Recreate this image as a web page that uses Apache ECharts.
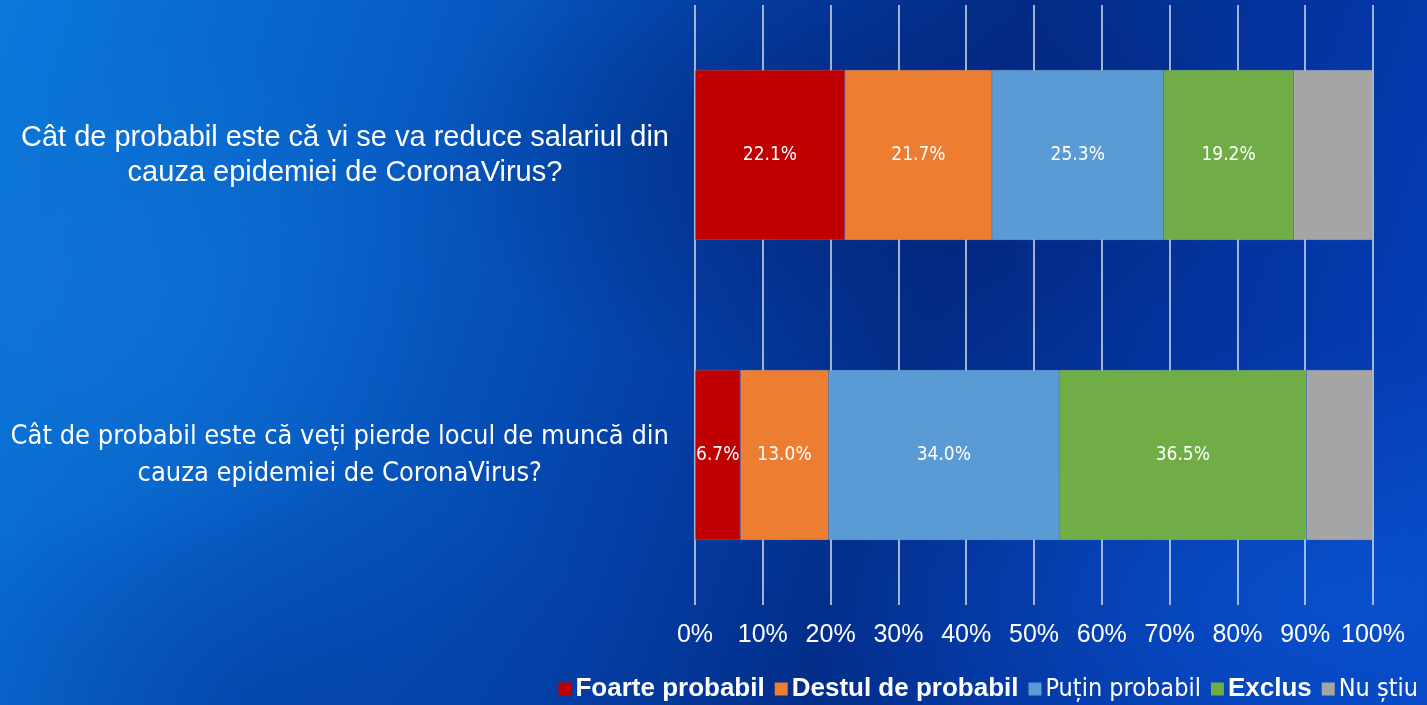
<!DOCTYPE html>
<html>
<head>
<meta charset="utf-8">
<script src="https://cdn.jsdelivr.net/npm/echarts@6/dist/echarts.min.js"></script>
<style>
html, body { margin: 0; padding: 0; }
body {
	width: 1427px; height: 705px; overflow: hidden;
	background:
		radial-gradient(ellipse 330px 260px at 120px 300px, rgba(20,120,215,0.5), rgba(20,120,215,0) 100%),
		radial-gradient(ellipse 520px 260px at 1330px 600px, rgba(10,85,210,0.75), rgba(10,85,210,0) 100%),
		radial-gradient(ellipse 420px 240px at 850px 150px, rgba(2,30,110,0.6), rgba(2,30,110,0) 100%),
		radial-gradient(ellipse 380px 220px at 260px 700px, rgba(3,50,150,0.45), rgba(3,50,150,0) 100%),
		linear-gradient(108deg, #0a78da 0%, #0866cc 18%, #0550b8 36%, #043ca2 50%, #022e8a 62%, #0334a0 80%, #0642c0 100%);
}
#chart { width: 1427px; height: 705px; }
</style>
</head>
<body>
<div id="chart"></div>
<script>
// 数据
var questions = [
	'Cât de probabil este că vi se va reduce salariul din\ncauza epidemiei de CoronaVirus?',
	'Cât de probabil este că veți pierde locul de muncă din\ncauza epidemiei de CoronaVirus?'
];
var seriesNames = ['Foarte probabil', 'Destul de probabil', 'Puțin probabil', 'Exclus', 'Nu știu'];
var foarte = [22.1, 6.7];
var destul = [21.7, 13.0];
var putin = [25.3, 34.0];
var exclus = [19.2, 36.5];
var nuStiu = [11.7, 9.8];
var colors = ['#c00000', '#ed7d31', '#5b9bd5', '#70ad47', '#a5a5a5'];

var condensed = '"DejaVu Sans Condensed", "DejaVu Sans", sans-serif';
var arial = '"Liberation Sans", Arial, sans-serif';

var myChart = echarts.init(document.getElementById('chart'));

function makeSeries(name, data, idx) {
	return {
		name : name,
		type : 'bar',
		stack : 'total',
		barWidth : 170,
		data : data,
		itemStyle : { color : colors[idx], borderColor : 'rgba(255,255,255,0.25)', borderWidth : 0.6 },
		label : {
			show : idx < 4,
			position : 'inside',
			color : '#ffffff',
			fontFamily : condensed,
			fontSize : 19,
			formatter : function(p) { return p.value.toFixed(1) + '%'; }
		}
	};
}

var allData = [foarte, destul, putin, exclus, nuStiu];
var series = [];
for (var i = 0; i < seriesNames.length; i++) {
	series.push(makeSeries(seriesNames[i], allData[i], i));
}

var option = {
	animation : false,
	grid : {
		left : 695,
		right : 54,
		top : 5,
		bottom : 100
	},
	xAxis : {
		type : 'value',
		min : 0,
		max : 100,
		interval : 10,
		axisLine : { show : false },
		axisTick : { show : false },
		splitLine : { lineStyle : { color : '#d8dce8', width : 1.5 } },
		axisLabel : {
			color : '#ffffff',
			fontFamily : arial,
			fontSize : 25,
			margin : 18,
			formatter : '{value}%'
		}
	},
	yAxis : {
		type : 'category',
		inverse : true,
		data : questions,
		axisLine : { show : false },
		axisTick : { show : false },
		axisLabel : {
			margin : 26,
			align : 'right',
			formatter : function(v, i) {
				var lines = v.split('\n');
				var st = i === 0 ? 'a' : 'b';
				return '{' + st + '|' + lines[0] + '}\n{' + st + '|' + lines[1] + '}';
			},
			rich : {
				a : { color : '#ffffff', fontFamily : arial, fontSize : 29, lineHeight : 35, align : 'center' },
				b : { color : '#ffffff', fontFamily : condensed, fontSize : 27, lineHeight : 37, align : 'center' }
			}
		}
	},
	legend : {
		data : seriesNames,
		right : 4,
		bottom : -2,
		itemWidth : 13,
		itemHeight : 13,
		itemGap : 10,
		icon : 'rect',
		itemStyle : { borderWidth : 0 },
		formatter : function(name) {
			var k = seriesNames.indexOf(name);
			var st = (k === 2 || k === 4) ? 'n' : 'b';
			return '{' + st + '|' + name + '}';
		},
		textStyle : {
			color : '#ffffff',
			padding : [0, 0, 0, -1],
			rich : {
				b : { color : '#ffffff', fontFamily : arial, fontWeight : 'bold', fontSize : 26 },
				n : { color : '#ffffff', fontFamily : condensed, fontSize : 25 }
			}
		}
	},
	series : series
};

myChart.setOption(option);
</script>
</body>
</html>
